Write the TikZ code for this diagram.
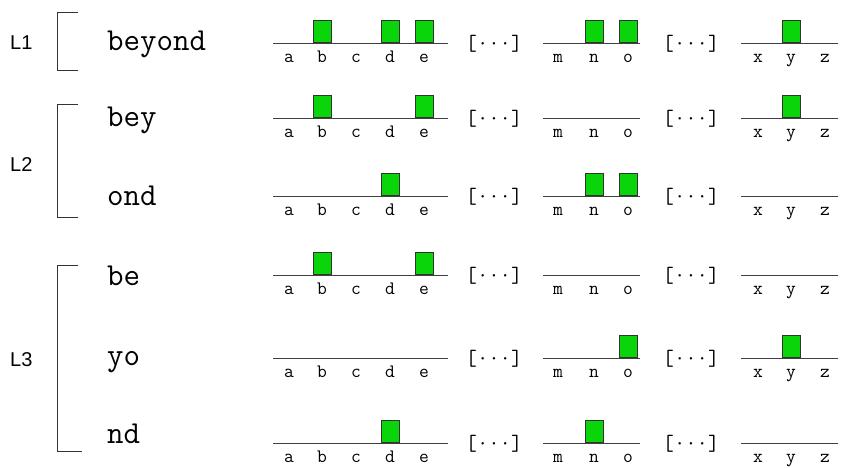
\documentclass[tikz,border=0pt]{standalone}
\usepackage{fontspec}
\newfontfamily\labelfont{Liberation Sans}
\usetikzlibrary{positioning}
\definecolor{bitgreen}{RGB}{10,212,10}

\begin{document}
\begin{tikzpicture}[x=1pt,y=-1pt,
    word/.style={anchor=base west,inner sep=0pt,font=\ttfamily\fontsize{32}{32}\selectfont},
    letter/.style={anchor=base,inner sep=0pt,font=\ttfamily\fontsize{19}{19}\selectfont},
    gap/.style={anchor=base,inner sep=0pt,font=\ttfamily\fontsize{22}{22}\selectfont},
    level/.style={anchor=west,inner sep=0pt,font=\labelfont\fontsize{20}{20}\selectfont},
    axis/.style={line width=0.9pt,black!75},
    brace/.style={line width=0.9pt,black!80},
    bit/.style={draw=black!80,line width=0.8pt,fill=bitgreen,minimum width=18pt,minimum height=22pt,inner sep=0pt,anchor=south}]
  \useasboundingbox (0,0) rectangle (842,467);
  % one row per segment of the word
  \foreach \r/\ly/\wb/\w in {1/43/50/beyond,2/118/126/bey,3/196/205/ond,4/275/285/be,5/358/365/yo,6/443/443/nd}{
    \node[word] (w\r) at (107,\wb) {\w};
    \foreach \s/\xa/\xb in {1/273/448,2/543/640,3/741/838}
      \draw[axis] (\xa,\ly) coordinate (s\r-\s w) -- (\xb,\ly) coordinate (s\r-\s e);
    \foreach \c/\cx in {a/289,b/322,c/356,d/390,e/424,m/558,n/594,o/628,x/758,y/791,z/825}{
      \coordinate (p\r\c) at (\cx,\ly);
      \node[letter] (l\r\c) at (\cx,\ly+19) {\c};
    }
    \node[gap] (g\r-1) at (494,\ly+7) {[···]};
    \node[gap] (g\r-2) at (691,\ly+7) {[···]};
  }
  % bits that are set
  \foreach \p in {1b,1d,1e,1n,1o,1y,2b,2e,2y,3d,3n,3o,4b,4e,5o,5y,6d,6n}
    \node[bit] (bit\p) at (p\p) {};
  % levels
  \node[level] (L1) at (10,43) {L1};
  \node[level] (L2) at (10,165) {L2};
  \node[level] (L3) at (10,360) {L3};
  \draw[brace] (78,12) -- (57,12) -- (57,70) -- (78,70);
  \draw[brace] (78,104) -- (57,104) -- (57,217) -- (78,217);
  \draw[brace] (78,265) -- (57,265) -- (57,451) -- (82,451);
\end{tikzpicture}
\end{document}
